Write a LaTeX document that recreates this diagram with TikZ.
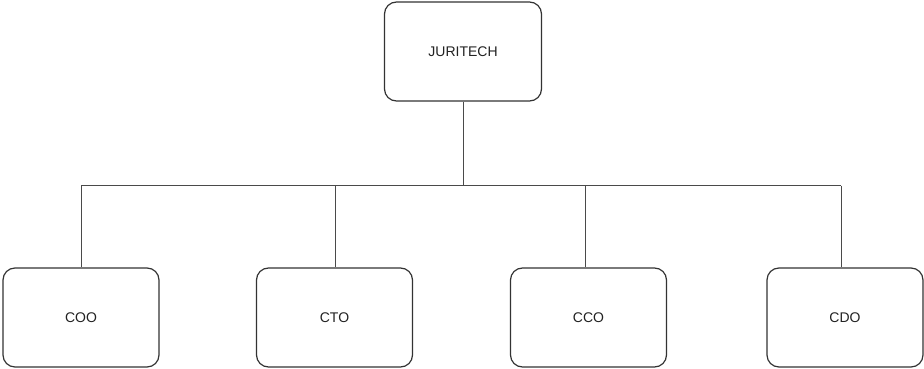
\documentclass[tikz,border=0pt]{standalone}
\usepackage{fontspec}
\setmainfont{Liberation Sans}
\definecolor{edge}{HTML}{333333}
\definecolor{wire}{HTML}{4A4A4A}
\definecolor{ink}{HTML}{222222}
\begin{document}
\begin{tikzpicture}[x=1pt,y=-1pt,
  unit/.style={draw=edge,line width=1.2pt,rounded corners=12pt,fill=white,
    minimum width=156pt,minimum height=99pt,inner sep=0pt,
    font=\fontsize{14}{16}\selectfont,text=ink},
  wireline/.style={draw=wire,line width=1pt}]
\useasboundingbox (0,0) rectangle (924,369);
% top of the chart
\node[unit,minimum width=157pt] (top) at (463,51.5) {JURITECH};
% direct reports
\node[unit] (coo) at (81,317.5) {COO};
\node[unit] (cto) at (334.5,317.5) {CTO};
\node[unit] (cco) at (588.5,317.5) {CCO};
\node[unit] (cdo) at (845,317.5) {CDO};
% bus junctions
\coordinate (j1) at (81,185.5);
\coordinate (j2) at (335,185.5);
\coordinate (j3) at (585,185.5);
\coordinate (j4) at (841,185.5);
\coordinate (jt) at (463,185.5);
\draw[wireline] (top.south) -- (jt);
\draw[wireline] (j1) -- (j4);
\draw[wireline] (j1) -- (j1 |- coo.north);
\draw[wireline] (j2) -- (j2 |- cto.north);
\draw[wireline] (j3) -- (j3 |- cco.north);
\draw[wireline] (j4) -- (j4 |- cdo.north);
\end{tikzpicture}
\end{document}
